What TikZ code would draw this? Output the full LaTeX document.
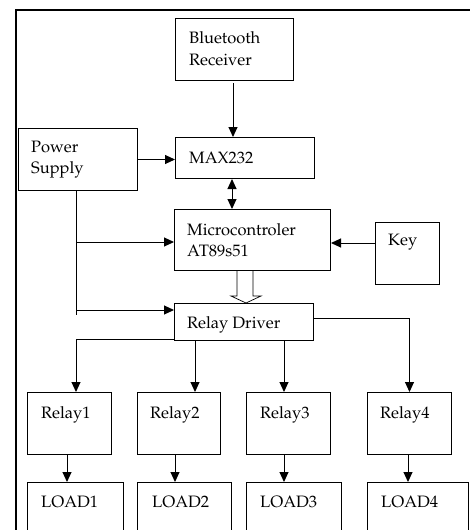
\documentclass[tikz,border=0pt]{standalone}
\usepackage[T1]{fontenc}
\renewcommand{\rmdefault}{ppl}
\usetikzlibrary{arrows.meta,calc}
\begin{document}
\begin{tikzpicture}[x=1pt,y=-1pt,
  box/.style={draw, line width=1pt, inner sep=0pt, anchor=north west},
  lbl/.style={anchor=base west, inner sep=0pt, font=\fontsize{16.5}{20}\selectfont},
  conn/.style={line width=1pt},
  arr/.style={conn, -{Triangle[length=10pt,width=9pt]}},
  dbl/.style={conn, {Triangle[length=10pt,width=9pt]}-{Triangle[length=10pt,width=9pt]}},
  hollow/.style={line width=0.7pt, fill=white}]
\useasboundingbox (0,0) rectangle (470,530);
\clip (0,0) rectangle (470,530);

% outer frame
\draw[line width=2pt] (16,560) -- (16,10);
\draw[line width=1.2pt] (15,10) -- (480,10);

% blocks
\node[box, minimum width=118pt, minimum height=62pt] (bt) at (175,18) {};
\node[box, minimum width=119pt, minimum height=62pt] (ps) at (18,128) {};
\node[box, minimum width=139pt, minimum height=41pt] (max) at (175,137) {};
\node[box, minimum width=156pt, minimum height=61pt] (mcu) at (174,209) {};
\node[box, minimum width=64pt, minimum height=62pt] (key) at (375,222) {};
\node[box, minimum width=139pt, minimum height=37pt] (rd) at (174,303) {};
\node[box, minimum width=84pt, minimum height=62pt] (r1) at (27,392) {};
\node[box, minimum width=83pt, minimum height=62pt] (r2) at (137,392) {};
\node[box, minimum width=84pt, minimum height=62pt] (r3) at (246,392) {};
\node[box, minimum width=84pt, minimum height=62pt] (r4) at (367,392) {};
\node[box, minimum width=96pt, minimum height=70pt] (l1) at (27,482) {};
\node[box, minimum width=94pt, minimum height=70pt] (l2) at (137,482) {};
\node[box, minimum width=95pt, minimum height=70pt] (l3) at (246,482) {};
\node[box, minimum width=101pt, minimum height=70pt] (l4) at (367,482) {};

% labels
\node[lbl] (btA) at ($(bt.north west)+(14,25)$) {Bluetooth};
\node[lbl] (btB) at ($(bt.north west)+(14,47)$) {Receiver};
\node[lbl] (psA) at ($(ps.north west)+(13,24)$) {Power};
\node[lbl] (psB) at ($(ps.north west)+(13,45)$) {Supply};
\node[lbl] (maxA) at ($(max.north west)+(14,26)$) {MAX232};
\node[lbl] (mcuA) at ($(mcu.north west)+(13,26)$) {Microcontroler};
\node[lbl] (mcuB) at ($(mcu.north west)+(13,47)$) {AT89s51};
\node[lbl] (keyA) at ($(key.north west)+(13,23)$) {Key};
\node[lbl] (rdA) at ($(rd.north west)+(13,25)$) {Relay Driver};
\node[lbl] (r1A) at ($(r1.north west)+(14,26)$) {Relay1};
\node[lbl] (r2A) at ($(r2.north west)+(13,26)$) {Relay2};
\node[lbl] (r3A) at ($(r3.north west)+(14,26)$) {Relay3};
\node[lbl] (r4A) at ($(r4.north west)+(13,26)$) {Relay4};
\node[lbl] (l1A) at ($(l1.north west)+(14,25)$) {LOAD1};
\node[lbl] (l2A) at ($(l2.north west)+(15,25)$) {LOAD2};
\node[lbl] (l3A) at ($(l3.north west)+(14,25)$) {LOAD3};
\node[lbl] (l4A) at ($(l4.north west)+(14,25)$) {LOAD4};

% signal path
\draw[arr] ($(bt.south west)+(58,2)$) -- ($(max.north west)+(58,0)$);
\draw[arr] (ps.east) -- (ps.east -| max.west);
\draw[dbl] ($(max.south west)+(57,0)$) -- ($(mcu.north west)+(58,0)$);
\draw[arr] ($(key.north west)+(0,21)$) -- ($(mcu.north east)+(0,34)$);

% power distribution
\coordinate (pw) at ($(ps.south west)+(58,0)$);
\coordinate (mcuIn) at ($(mcu.north west)+(0,33)$);
\coordinate (rdIn) at ($(rd.north west)+(0,7)$);
\draw[conn] (pw) -- ($(pw)+(0,124)$);
\draw[arr] (mcuIn -| pw) -- (mcuIn);
\draw[arr] (rdIn -| pw) -- (rdIn);

% hollow bus arrow
\draw[hollow] ($(mcu.south west)+(63,0)$) -- ++(0,25) -- ++(-6,0)
  -- ($(rd.north west)+(72,0)$) -- ($(mcu.south west)+(87,25)$) -- ++(-8,0)
  -- ($(mcu.south west)+(79,0)$);

% relay driver outputs
\coordinate (rdL) at ($(rd.south west)+(0,-2)$);
\coordinate (rdR) at ($(rd.north east)+(0,15)$);
\draw[arr] (rdL) -| ($(r1.north west)+(49,0)$);
\draw[arr] ($(rd.south west)+(21,0)$) -- ($(r2.north west)+(58,0)$);
\draw[arr] ($(rd.south west)+(110,0)$) -- ($(r3.north west)+(38,0)$);
\draw[arr] (rdR) -| (r4.north);

% relays to loads
\draw[arr] ($(r1.south west)+(40,0)$) -- ($(l1.north west)+(40,0)$);
\draw[arr] ($(r2.south west)+(38,0)$) -- ($(l2.north west)+(38,0)$);
\draw[arr] ($(r3.south west)+(38,0)$) -- ($(l3.north west)+(38,0)$);
\draw[arr] ($(r4.south west)+(41,0)$) -- ($(l4.north west)+(41,0)$);
\end{tikzpicture}
\end{document}
